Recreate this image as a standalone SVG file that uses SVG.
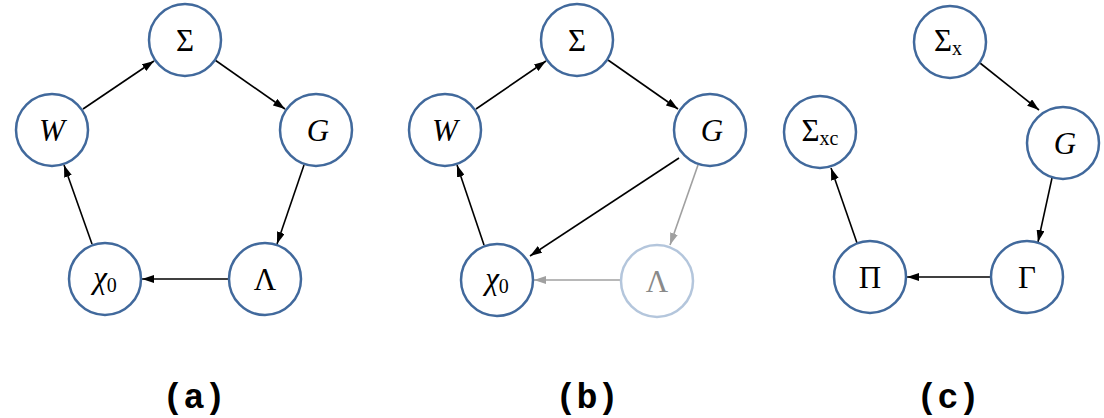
<svg xmlns="http://www.w3.org/2000/svg" width="1104" height="418" viewBox="0 0 1104 418">
<style>
.n{fill:#fff;stroke:#41699c;stroke-width:2.5}
.nf{fill:#fff;stroke:#b4c6dc;stroke-width:2.5}
.t{font-family:"Liberation Serif","Times New Roman",serif;font-size:31px;fill:#000;text-anchor:middle}
.tf{font-family:"Liberation Serif","Times New Roman",serif;font-size:31px;fill:#8a8a8a;text-anchor:middle}
.s{font-size:20px}
.e{stroke:#000;stroke-width:1.6;fill:none;marker-end:url(#ah)}
.eg{stroke:#a0a0a0;stroke-width:1.6;fill:none;marker-end:url(#ahg)}
.cap{font-family:"Liberation Mono","Courier New",monospace;font-weight:bold;font-size:35px;fill:#000;text-anchor:middle}
</style>
<defs>
<marker id="ah" viewBox="0 0 12 8" refX="12" refY="4" markerWidth="12" markerHeight="8" markerUnits="userSpaceOnUse" orient="auto"><path d="M0,0 L12,4 L0,8 z" fill="#000"/></marker>
<marker id="ahg" viewBox="0 0 12 8" refX="12" refY="4" markerWidth="12" markerHeight="8" markerUnits="userSpaceOnUse" orient="auto"><path d="M0,0 L12,4 L0,8 z" fill="#a0a0a0"/></marker>
</defs>
<g id="connectors">
<line class="e" x1="83" y1="109" x2="154" y2="61"/>
<line class="e" x1="215" y1="60" x2="285" y2="109"/>
<line class="e" x1="304" y1="165" x2="277" y2="244"/>
<line class="e" x1="228" y1="279" x2="142" y2="279"/>
<line class="e" x1="92" y1="244" x2="64" y2="165"/>
<line class="e" x1="476" y1="109" x2="546" y2="61"/>
<line class="e" x1="608" y1="60" x2="678" y2="109"/>
<line class="e" x1="679" y1="158" x2="530" y2="256"/>
<line class="eg" x1="698" y1="165" x2="670" y2="245"/>
<line class="eg" x1="620" y1="280" x2="534" y2="280"/>
<line class="e" x1="484" y1="245" x2="457" y2="165"/>
<line class="e" x1="980" y1="63" x2="1039" y2="110"/>
<line class="e" x1="1052" y1="178" x2="1038" y2="242"/>
<line class="e" x1="990" y1="277" x2="907" y2="277"/>
<line class="e" x1="857" y1="243" x2="831" y2="168"/>
</g>
<g id="a_sigma"><circle class="n" cx="185" cy="40" r="36"/><text class="t" x="185" y="51">Σ</text></g>
<g id="a_W"><circle class="n" cx="52" cy="130" r="36"/><text class="t" x="52" y="141" font-style="italic">W</text></g>
<g id="a_G"><circle class="n" cx="316" cy="130" r="36"/><text class="t" x="318" y="141" font-style="italic">G</text></g>
<g id="a_chi"><circle class="n" cx="105" cy="279" r="36"/><text class="t" x="105" y="288"><tspan font-style="italic">χ</tspan><tspan class="s" dy="4">0</tspan></text></g>
<g id="a_lambda"><circle class="n" cx="265" cy="279" r="36"/><text class="t" x="265" y="290">Λ</text></g>
<g id="b_sigma"><circle class="n" cx="577" cy="40" r="36"/><text class="t" x="577" y="51">Σ</text></g>
<g id="b_W"><circle class="n" cx="445" cy="130" r="36"/><text class="t" x="445" y="141" font-style="italic">W</text></g>
<g id="b_G"><circle class="n" cx="710" cy="130" r="36"/><text class="t" x="712" y="141" font-style="italic">G</text></g>
<g id="b_chi"><circle class="n" cx="497" cy="280" r="36"/><text class="t" x="497" y="289"><tspan font-style="italic">χ</tspan><tspan class="s" dy="4">0</tspan></text></g>
<g id="b_lambda"><circle class="nf" cx="657" cy="281" r="36"/><text class="tf" x="657" y="292">Λ</text></g>
<g id="c_sigmax"><circle class="n" cx="950" cy="42" r="36"/><text class="t" x="948" y="51">Σ<tspan class="s" dy="4">x</tspan></text></g>
<g id="c_G"><circle class="n" cx="1063" cy="143" r="36"/><text class="t" x="1065" y="154" font-style="italic">G</text></g>
<g id="c_sigmaxc"><circle class="n" cx="820" cy="132" r="36"/><text class="t" x="820" y="141">Σ<tspan class="s" dy="4">xc</tspan></text></g>
<g id="c_pi"><circle class="n" cx="870" cy="277" r="36"/><text class="t" x="870" y="288">Π</text></g>
<g id="c_gamma"><circle class="n" cx="1027" cy="277" r="36"/><text class="t" x="1027" y="288">Γ</text></g>
<text class="cap" x="194" y="408">(a)</text>
<text class="cap" x="587" y="408">(b)</text>
<text class="cap" x="948" y="408">(c)</text>
</svg>
